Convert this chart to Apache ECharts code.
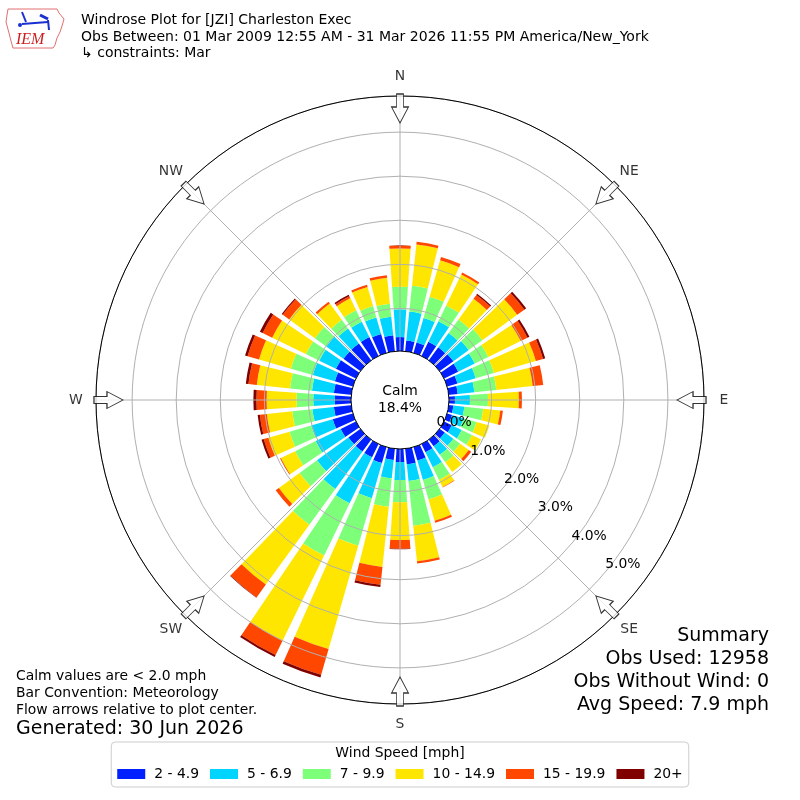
<!DOCTYPE html>
<html><head><meta charset="utf-8">
<script src="https://cdn.jsdelivr.net/npm/echarts@6/dist/echarts.min.js"></script>
<style>html,body{margin:0;padding:0;background:#fff}#c{width:800px;height:800px}</style>
</head><body><div id="c"></div>
<script>
// ---------------- data ----------------
const dirDegrees = [0,10,20,30,40,50,60,70,80,90,100,110,120,130,140,150,160,170,180,190,200,210,220,230,240,250,260,270,280,290,300,310,320,330,340,350];
const speedBins = ['2 - 4.9','5 - 6.9','7 - 9.9','10 - 14.9','15 - 19.9','20+'];
const binColors = ['#0020ff','#00d4ff','#7dff7a','#ffe600','#ff4700','#800000'];
// percent of observations per direction (0..350 deg) per speed bin
const spd2to5   = [0.35,0.28,0.28,0.39,0.40,0.42,0.39,0.28,0.24,0.17,0.14,0.15,0.23,0.18,0.22,0.24,0.35,0.39,0.33,0.29,0.41,0.37,0.37,0.37,0.42,0.51,0.43,0.40,0.43,0.46,0.54,0.51,0.51,0.51,0.48,0.40];
const spd5to7   = [0.63,0.66,0.58,0.52,0.40,0.43,0.42,0.43,0.38,0.34,0.25,0.27,0.25,0.24,0.24,0.38,0.46,0.38,0.41,0.42,0.83,1.16,1.05,0.88,0.63,0.51,0.49,0.49,0.50,0.52,0.42,0.48,0.42,0.39,0.39,0.42];
const spd7to10  = [0.51,0.59,0.50,0.40,0.38,0.38,0.34,0.43,0.50,0.41,0.43,0.31,0.26,0.19,0.21,0.32,0.46,1.02,0.50,0.65,1.12,1.32,1.00,0.49,0.52,0.51,0.46,0.38,0.50,0.52,0.34,0.32,0.24,0.29,0.27,0.30];
const spd10to15 = [0.87,0.94,0.86,0.78,0.58,0.98,0.82,0.99,0.83,0.70,0.39,0.30,0.23,0.24,0.27,0.18,0.50,0.81,0.86,1.37,2.44,2.15,1.68,0.58,0.36,0.50,0.58,0.68,0.76,0.75,0.85,0.72,0.46,0.30,0.45,0.59];
const spd15to20 = [0.07,0.06,0.08,0.05,0.11,0.20,0.17,0.17,0.24,0.07,0.06,0.00,0.00,0.07,0.00,0.01,0.05,0.05,0.20,0.41,0.61,0.36,0.36,0.09,0.02,0.11,0.16,0.23,0.19,0.27,0.24,0.18,0.05,0.05,0.05,0.06];
const spd20plus = [0.00,0.00,0.00,0.00,0.03,0.05,0.05,0.05,0.00,0.00,0.00,0.00,0.00,0.00,0.00,0.00,0.00,0.00,0.01,0.05,0.06,0.05,0.01,0.00,0.00,0.05,0.05,0.07,0.06,0.06,0.07,0.03,0.00,0.04,0.00,0.00];
const calmPct = 18.4;
const radialTickLabels = ['0.0%','1.0%','2.0%','3.0%','4.0%','5.0%'];
const compassNames = ['N','NE','E','SE','S','SW','W','NW'];
const compassAngles = [0,45,90,135,180,225,270,315];
const titleLines = ['Windrose Plot for [JZI] Charleston Exec','Obs Between: 01 Mar 2009 12:55 AM - 31 Mar 2026 11:55 PM America/New_York','\u21b3 constraints: Mar'];
const noteLines = ['Calm values are < 2.0 mph','Bar Convention: Meteorology','Flow arrows relative to plot center.'];
const generatedText = 'Generated: 30 Jun 2026';
const summaryLines = ['Summary','Obs Used: 12958','Obs Without Wind: 0','Avg Speed: 7.9 mph'];
// ---------------- layout/style ----------------
const FONT = '"DejaVu Sans", sans-serif';
const RMAX = 5.82;            // radius axis extent (percent) at outer circle
const ARROW_R = 5.537;        // arrow centre radius (axis units)
const LABEL_R = 6.274;        // compass label radius (axis units)
const seriesData = [spd2to5, spd5to7, spd7to10, spd10to15, spd15to20, spd20plus];

const chart = echarts.init(document.getElementById('c'), null, {renderer:'canvas'});

const barSeries = speedBins.map((name, i) => ({
  name, type:'bar', coordinateSystem:'polar', polarIndex:0, stack:'wr',
  barCategoryGap:'20%', data: seriesData[i], z:2, silent:true,
  itemStyle:{color: binColors[i]}
}));

const txt = (text, x, y, size, align, extra) => Object.assign({
  type:'text', x, y, silent:true, z:10,
  style:{text, fill:'#000', font: size + 'px ' + FONT, align: align || 'left', verticalAlign:'middle'}
}, extra || {});

const option = {
  animation:false,
  backgroundColor:'#fff',
  polar:[
    {center:['50%','50%'], radius:[47.5, 304]},
    {center:['50%','50%'], radius:[42.5, 299]},
    {center:['50%','50%'], radius:[47.5, 304]}
  ],
  angleAxis:[
    {polarIndex:0, type:'category', data: dirDegrees, startAngle:95, clockwise:true, boundaryGap:true, z:4,
     axisLine:{show:true, lineStyle:{color:'#000', width:1}}, axisTick:{show:false}, axisLabel:{show:false},
     splitLine:{show:false}, splitArea:{show:false}},
    {polarIndex:1, type:'value', min:0, max:360, startAngle:-40, show:false},
    {polarIndex:2, type:'value', min:0, max:360, interval:45, startAngle:90, clockwise:true, z:3,
     axisLine:{show:false}, axisTick:{show:false}, axisLabel:{show:false},
     splitLine:{show:true, lineStyle:{color:'#b0b0b0', width:1}}, splitArea:{show:false}}
  ],
  radiusAxis:[
    {polarIndex:0, type:'value', min:0, max:RMAX, show:false},
    {polarIndex:1, type:'value', min:0, max:RMAX, interval:1, z:8,
     axisLine:{show:false}, axisTick:{show:false}, splitLine:{show:false},
     axisLabel:{show:true, margin:6, showMaxLabel:false, color:'#000', fontSize:13.9, fontFamily:FONT,
       formatter: v => (Math.abs(v - Math.round(v)) < 1e-6 && radialTickLabels[Math.round(v)]) ? radialTickLabels[Math.round(v)] : ''}},
    {polarIndex:2, type:'value', min:0, max:RMAX, interval:1, z:3,
     axisLine:{show:false}, axisTick:{show:false}, axisLabel:{show:false},
     splitLine:{show:true, lineStyle:{color:'#b0b0b0', width:1}}}
  ],
  legend:{
    data: speedBins, left:'center', top:742, orient:'horizontal', selectedMode:false,
    icon:'rect', itemWidth:28, itemHeight:10, itemGap:11,
    padding:[25,6,6,6], borderColor:'#cccccc', borderWidth:1, borderRadius:4,
    textStyle:{color:'#000', fontSize:13.9, fontFamily:FONT, padding:[0,0,0,4]}
  },
  series:[
    ...barSeries,
    {type:'scatter', coordinateSystem:'polar', polarIndex:2, z:5, silent:true, clip:false,
     symbol:'path://M5,0 L12,0 L12,13 L17,13 L8.5,29 L0,13 L5,13 Z', symbolSize:[17,29],
     symbolRotate: v => -v[1],
     itemStyle:{color:'#fff', borderColor:'#000', borderWidth:1},
     data: compassAngles.map(a => [ARROW_R, a])},
    {type:'scatter', coordinateSystem:'polar', polarIndex:2, z:5, silent:true, clip:false,
     symbolSize:1, itemStyle:{color:'rgba(0,0,0,0)'},
     label:{show:true, position:'inside', formatter: p => p.name, color:'#000', fontSize:13.9, fontFamily:FONT},
     data: compassNames.map((n, i) => ({name:n, value:[LABEL_R, compassAngles[i]]}))},
    {type:'pie', center:['50%','50%'], radius:[0, 49], z:6, silent:true, animation:false,
     emphasis:{disabled:true},
     itemStyle:{color:'#fff', borderColor:'#000', borderWidth:1},
     label:{show:true, position:'center', formatter: 'Calm\n' + calmPct.toFixed(1) + '%',
            color:'#000', fontSize:13.9, fontFamily:FONT, lineHeight:17},
     labelLine:{show:false},
     data:[{value: calmPct, name:'Calm'}]}
  ],
  graphic:[
    // logo (approximation)
    {type:'polyline', silent:true, z:10, shape:{points:[[8,9],[57,9],[59,13],[64,19],[62,26],[60,32],[57,38],[55,45],[53,48],[13,48],[11,41],[9,33],[6,22],[7,15],[8,9]]},
     style:{stroke:'#e07070', fill:null, lineWidth:1}},
    {type:'line', silent:true, z:10, shape:{x1:22,y1:24,x2:48,y2:22}, style:{stroke:'#1a2fd0', lineWidth:2}},
    {type:'line', silent:true, z:10, shape:{x1:22,y1:12,x2:26,y2:22}, style:{stroke:'#1a2fd0', lineWidth:2}},
    {type:'line', silent:true, z:10, shape:{x1:40,y1:15,x2:48,y2:19}, style:{stroke:'#1a2fd0', lineWidth:3}},
    {type:'line', silent:true, z:10, shape:{x1:48,y1:20,x2:49,y2:30}, style:{stroke:'#1a2fd0', lineWidth:2}},
    {type:'circle', silent:true, z:10, shape:{cx:20,cy:25,r:2}, style:{fill:'#1a2fd0'}},
    txt('IEM', 16, 40, 16, 'left', {style:{text:'IEM', fill:'#cc2020', font:'italic 16px "Liberation Serif", serif', align:'left', verticalAlign:'middle'}}),
    // title
    txt(titleLines[0], 81, 20, 14),
    txt(titleLines[1], 81, 37, 14),
    txt(titleLines[2], 81, 53, 14),
    // notes bottom-left
    txt(noteLines[0], 16, 676, 13.9),
    txt(noteLines[1], 16, 693, 13.9),
    txt(noteLines[2], 16, 710, 13.9),
    txt(generatedText, 16, 729, 19),
    // summary right
    txt(summaryLines[0], 769, 636, 19, 'right'),
    txt(summaryLines[1], 769, 659, 19, 'right'),
    txt(summaryLines[2], 769, 682, 19, 'right'),
    txt(summaryLines[3], 769, 705, 19, 'right'),
    // legend title
    txt('Wind Speed [mph]', 400, 753, 13.9, 'center')
  ]
};
chart.setOption(option);
</script>
</body></html>
